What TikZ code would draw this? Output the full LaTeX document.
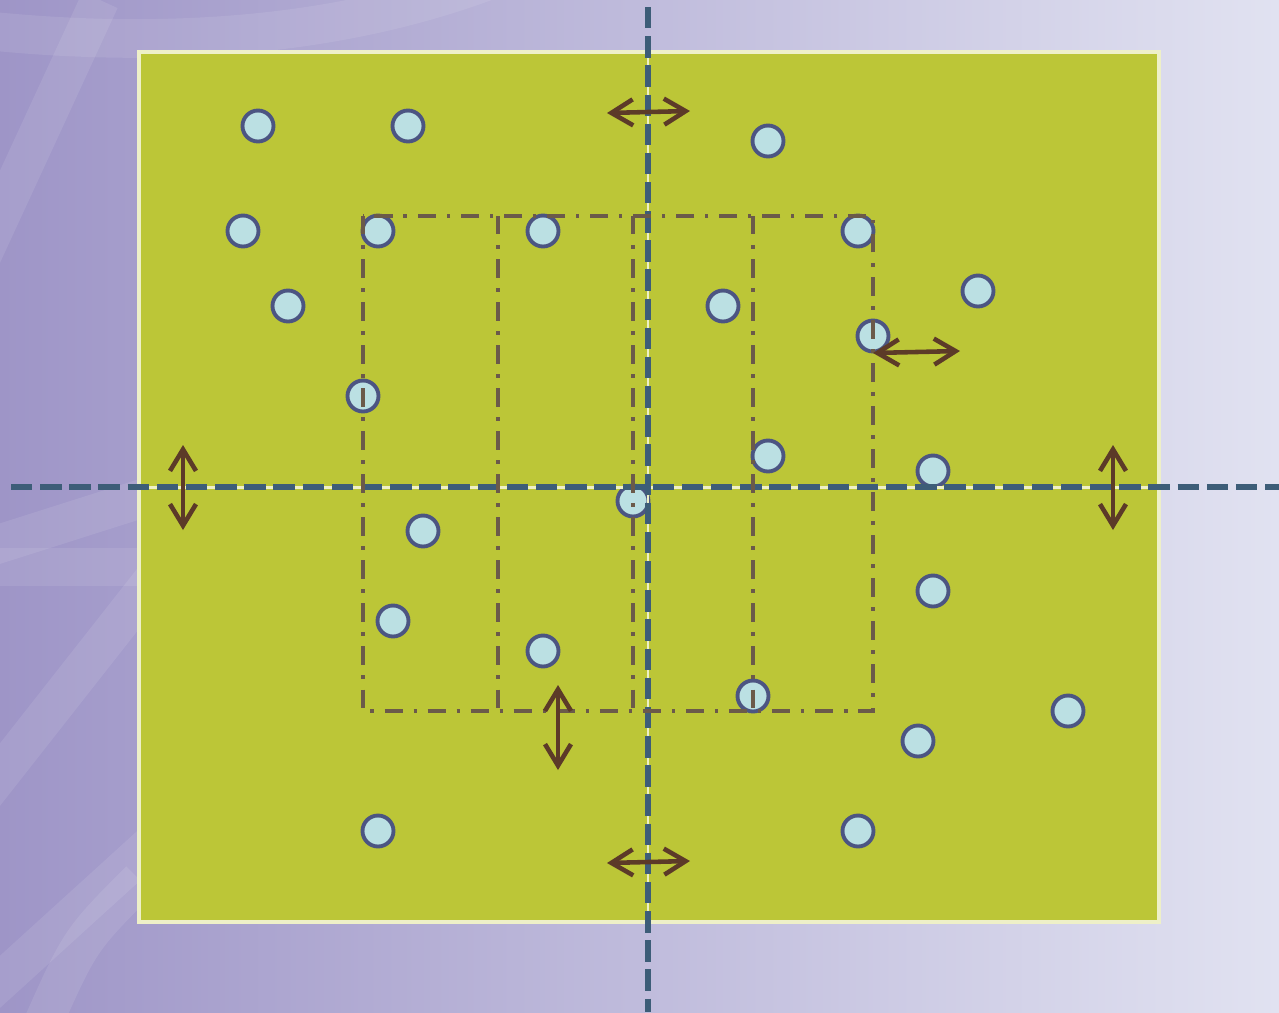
\documentclass[tikz,border=0pt]{standalone}
\usepackage{xcolor}
\usepackage{tikz}
\usetikzlibrary{arrows.meta}

\definecolor{bgleft}{HTML}{9E95C7}
\definecolor{bgright}{HTML}{E1E2F1}
\definecolor{field}{HTML}{BCC637}
\definecolor{rim}{HTML}{EEF0C8}
\definecolor{axisblue}{HTML}{3D5D78}
\definecolor{dotfill}{HTML}{BBE0E3}
\definecolor{dotrim}{HTML}{4C5582}
\definecolor{zone}{HTML}{6B5A4A}
\definecolor{move}{HTML}{5C3A28}

\tikzset{
    player/.style={circle, draw=dotrim, fill=dotfill, line width=2.2pt, minimum size=0.62cm, inner sep=0pt},
    zoneline/.style={draw=zone, line width=2pt, dash pattern=on 10.5pt off 6pt on 2pt off 6pt},
    halfway/.style={draw=axisblue, line width=3.4pt, dash pattern=on 12.2pt off 4.4pt},
    movearrow/.style={{Straight Barb[length=4.3mm,width=5.2mm]}-{Straight Barb[length=4.3mm,width=5.2mm]}, draw=move, line width=2.6pt, line cap=round}
}

\begin{document}
\begin{tikzpicture}[x=0.02cm, y=-0.02cm]
    \useasboundingbox (0,0) rectangle (1279,1012);
    \shade[left color=bgleft, right color=bgright] (0,0) rectangle (1279,1012);

    % 1. Faint strokes in the background
    \begin{scope}
        \clip (0,0) rectangle (1279,1012);
        \begin{scope}[white, opacity=0.09, line width=22pt]
            \draw (-20,30) .. controls (150,48) and (330,40) .. (490,-20);
            \draw (100,0) -- (-20,260);
            \draw (-20,567) -- (200,567);
            \draw (200,480) -- (-20,550);
            \draw (200,520) -- (-20,800);
            \draw (200,800) -- (-20,1000);
            \draw (140,880) .. controls (80,940) .. (40,1030);
        \end{scope}
    \end{scope}

    % 2. Pitch
    \draw[fill=field, draw=rim, line width=2.3pt] (139,52) rectangle (1159,922);

    % 3. Players
    \foreach \px/\py [count=\i] in {258/126, 408/126, 768/141, 243/231, 378/231, 543/231,
        858/231, 978/291, 288/306, 723/306, 873/336, 363/396, 768/456, 933/471,
        633/501, 423/531, 933/591, 393/621, 543/651, 753/696, 1068/711,
        918/741, 378/831, 858/831} {
        \node[player] (p\i) at (\px,\py) {};
    }

    % 4. Halfway lines
    \draw[rim, line width=1.7pt] (648,52) -- (648,922);
    \draw[rim, line width=1.7pt] (139,487) -- (1159,487);
    \draw[halfway] (648,7) -- (648,1012);
    \draw[halfway] (11,487) -- (1279,487);

    % 5. Zones
    \draw[zoneline] (363,216) rectangle (873,711);
    \foreach \zx in {498,633,753} {
        \draw[zoneline] (\zx,216) -- (\zx,711);
    }

    % 6. Movement
    \coordinate (t1) at (607,113);  \coordinate (t2) at (690,111);
    \coordinate (r1) at (873,353);  \coordinate (r2) at (960,351);
    \coordinate (w1) at (183,445);  \coordinate (w2) at (183,530);
    \coordinate (e1) at (1113,445); \coordinate (e2) at (1113,530);
    \coordinate (m1) at (558,685);  \coordinate (m2) at (558,770);
    \coordinate (b1) at (607,863);  \coordinate (b2) at (690,861);
    \foreach \a/\b in {t1/t2, r1/r2, w1/w2, e1/e2, m1/m2, b1/b2} {
        \draw[movearrow] (\a) -- (\b);
    }
\end{tikzpicture}
\end{document}
